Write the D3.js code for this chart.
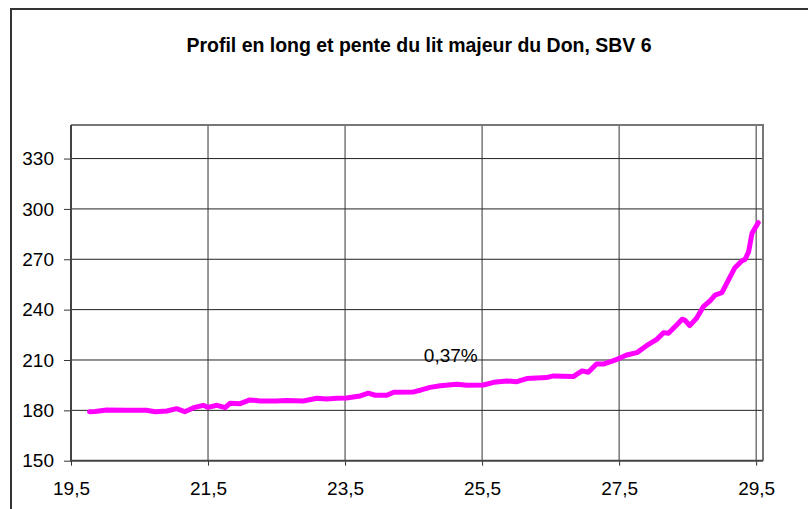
<!DOCTYPE html>
<html>
<head>
<meta charset="utf-8">
<script src="https://cdn.jsdelivr.net/npm/d3@7/dist/d3.min.js"></script>
<style>
  html, body { margin: 0; padding: 0; background: #fff; }
  svg { display: block; }
  text { font-family: "Liberation Sans", Arial, sans-serif; fill: #000; }
</style>
</head>
<body>
<svg id="chart" width="808" height="509"></svg>
<script>
const title = "Profil en long et pente du lit majeur du Don, SBV 6";
const slopeLabel = "0,37%";
const xTicks = [19.5, 21.5, 23.5, 25.5, 27.5, 29.5];
const yTicks = [150, 180, 210, 240, 270, 300, 330];
const xDomain = [19.5, 29.6];
const yDomain = [150, 350];

const distance = [19.77, 19.85, 20.02, 20.31, 20.60, 20.73, 20.90, 21.04, 21.16, 21.29,
  21.43, 21.50, 21.63, 21.75, 21.82, 21.97, 22.11, 22.26, 22.50, 22.65,
  22.89, 23.09, 23.23, 23.38, 23.52, 23.72, 23.84, 23.94, 24.11, 24.21,
  24.50, 24.60, 24.74, 24.89, 25.13, 25.28, 25.52, 25.67, 25.86, 26.01,
  26.15, 26.44, 26.54, 26.83, 26.96, 27.05, 27.17, 27.27, 27.47, 27.61,
  27.76, 27.90, 28.05, 28.15, 28.22, 28.34, 28.42, 28.46, 28.53, 28.63,
  28.73, 28.83, 28.90, 29.00, 29.07, 29.19, 29.29, 29.34, 29.39, 29.44, 29.53];
const elevation = [179.2, 179.3, 180.2, 180.1, 180.0, 179.2, 179.6, 181.0, 179.2, 181.6,
  183.0, 181.8, 183.0, 181.6, 184.2, 184.0, 186.2, 185.6, 185.6, 185.9,
  185.6, 187.2, 186.8, 187.2, 187.4, 188.6, 190.2, 189.0, 189.0, 190.8,
  191.0, 192.0, 193.7, 194.6, 195.5, 194.9, 195.1, 196.7, 197.5, 197.1,
  198.9, 199.5, 200.5, 200.1, 203.5, 202.7, 207.6, 207.6, 210.4, 213.0,
  214.4, 218.5, 222.3, 226.3, 225.9, 230.9, 234.3, 233.8, 230.5, 234.9,
  241.8, 245.4, 248.7, 250.1, 255.7, 265.0, 269.0, 270.0, 274.5, 285.5, 291.8];
const labelPos = [24.65, 210];

const svg = d3.select("#chart");
const plot = { left: 71, top: 125, right: 763, bottom: 460.7 };
const FS = 19;

// outer chart border (extends past the window)
svg.append("rect")
  .attr("x", 11).attr("y", 9)
  .attr("width", 900).attr("height", 600)
  .attr("fill", "#fff").attr("stroke", "#333").attr("stroke-width", 2);

svg.append("text")
  .attr("x", 419).attr("y", 52)
  .attr("text-anchor", "middle")
  .attr("font-weight", "bold")
  .attr("font-size", 20)
  .attr("textLength", 465)
  .attr("lengthAdjust", "spacingAndGlyphs")
  .text(title);

const x = d3.scaleLinear().domain(xDomain).range([plot.left, plot.right]);
const y = d3.scaleLinear().domain(yDomain).range([plot.bottom, plot.top]);

// gridlines
svg.append("g").selectAll("line").data(yTicks.slice(1)).join("line")
  .attr("x1", plot.left).attr("x2", plot.right)
  .attr("y1", d => y(d)).attr("y2", d => y(d))
  .attr("stroke", "#222").attr("stroke-width", 1);
svg.append("g").selectAll("line").data(xTicks.slice(1)).join("line")
  .attr("x1", d => x(d)).attr("x2", d => x(d))
  .attr("y1", plot.top).attr("y2", plot.bottom)
  .attr("stroke", "#333").attr("stroke-width", 1);

// plot frame top/right
svg.append("path")
  .attr("d", `M${plot.left},${plot.top}H${plot.right}V${plot.bottom}`)
  .attr("fill", "none").attr("stroke", "#777").attr("stroke-width", 2);

// axes
const yAxis = d3.axisLeft(y).tickValues(yTicks).tickSize(7).tickPadding(10)
  .tickFormat(d3.format("d"));
const gy = svg.append("g").attr("transform", `translate(${plot.left},0)`).call(yAxis);
gy.select(".domain").remove();
gy.selectAll(".tick line").attr("stroke", "#333");
gy.selectAll(".tick text").attr("font-size", FS)
  .attr("font-family", "Liberation Sans, Arial, sans-serif");

const xAxis = d3.axisBottom(x).tickValues(xTicks).tickSize(5).tickPadding(16)
  .tickFormat(d => d3.format(".1f")(d).replace(".", ","));
const gx = svg.append("g").attr("transform", `translate(0,${plot.bottom})`).call(xAxis);
gx.select(".domain").remove();
gx.selectAll(".tick line").attr("stroke", "#333");
gx.selectAll(".tick text").attr("font-size", FS)
  .attr("font-family", "Liberation Sans, Arial, sans-serif");

svg.append("path")
  .attr("d", `M${plot.left},${plot.top}V${plot.bottom}H${plot.right}`)
  .attr("fill", "none").attr("stroke", "#444").attr("stroke-width", 2);

// data line
const pts = distance.map((d, i) => [d, elevation[i]]);
svg.append("path")
  .datum(pts)
  .attr("d", d3.line().x(d => x(d[0])).y(d => y(d[1])))
  .attr("fill", "none")
  .attr("stroke", "#FF00FF")
  .attr("stroke-width", 5)
  .attr("stroke-linejoin", "round")
  .attr("stroke-linecap", "round");

svg.append("text")
  .attr("x", x(labelPos[0])).attr("y", y(labelPos[1]) + 2)
  .attr("font-size", FS)
  .text(slopeLabel);
</script>
</body>
</html>
